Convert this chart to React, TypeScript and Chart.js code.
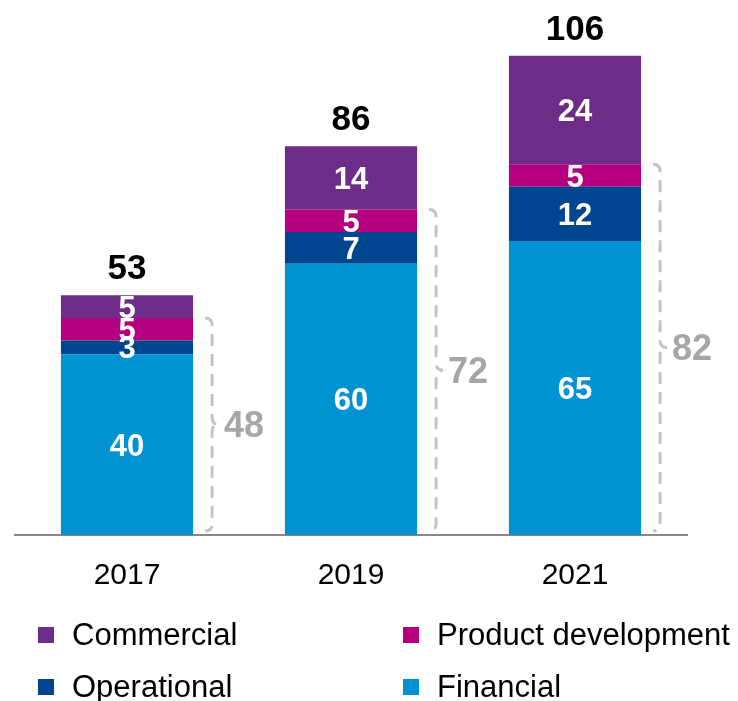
import React, { useEffect, useRef } from "react";
import { Chart, registerables } from "chart.js";

Chart.register(...registerables);

const categories = ["2017", "2019", "2021"];
const financial = [40, 60, 65];
const operational = [3, 7, 12];
const productDevelopment = [5, 5, 5];
const commercial = [5, 14, 24];

const seriesNames = ["Financial", "Operational", "Product development", "Commercial"];
const seriesColors = ["#0092D2", "#00458F", "#B4007E", "#6C2C87"];
const legendOrder = [3, 2, 1, 0]; // Commercial, Product development, Operational, Financial

const FONT = "'Liberation Sans', Arial, Helvetica, sans-serif";

const overlayPlugin = {
  id: "overlay",
  afterDatasetsDraw(chart: any) {
    const ctx = chart.ctx as CanvasRenderingContext2D;
    const yScale = chart.scales.y;
    const ds = chart.data.datasets;
    ctx.save();
    // segment labels
    ctx.textAlign = "center";
    ctx.textBaseline = "alphabetic";
    ctx.fillStyle = "#FFFFFF";
    ctx.font = `bold 31px ${FONT}`;
    ds.forEach((d: any, di: number) => {
      const meta = chart.getDatasetMeta(di);
      meta.data.forEach((bar: any, i: number) => {
        const p = bar.getProps(["x", "y", "base"], true);
        const cy = (p.y + p.base) / 2;
        ctx.fillText(String(d.data[i]), p.x, cy + 31 * 0.716 / 2);
      });
    });
    // totals and brackets
    const lastMeta = chart.getDatasetMeta(ds.length - 1);
    categories.forEach((_, i) => {
      const total = ds.reduce((s: number, d: any) => s + d.data[i], 0);
      const lower = ds.slice(0, 3).reduce((s: number, d: any) => s + d.data[i], 0);
      const bar = lastMeta.data[i].getProps(["x", "y", "width"], true);
      // total label
      ctx.fillStyle = "#000000";
      ctx.font = `bold 35px ${FONT}`;
      ctx.textAlign = "center";
      ctx.fillText(String(total), bar.x, bar.y - 16);
      // bracket
      const bx = bar.x + bar.width / 2 + 19;
      const top = yScale.getPixelForValue(lower);
      const bottom = yScale.getPixelForValue(0) - 4;
      const mid = (top + bottom) / 2;
      const r = 7;
      ctx.strokeStyle = "#C4C4C4";
      ctx.lineWidth = 3;
      ctx.setLineDash([12, 8]);
      ctx.beginPath();
      ctx.moveTo(bx - r, top);
      ctx.quadraticCurveTo(bx, top, bx, top + r);
      ctx.lineTo(bx, mid - r);
      ctx.quadraticCurveTo(bx, mid, bx + r, mid);
      ctx.quadraticCurveTo(bx, mid, bx, mid + r);
      ctx.lineTo(bx, bottom - r);
      ctx.quadraticCurveTo(bx, bottom, bx - r, bottom);
      ctx.stroke();
      ctx.setLineDash([]);
      ctx.fillStyle = "#A6A6A6";
      ctx.font = `bold 36px ${FONT}`;
      ctx.textAlign = "left";
      ctx.fillText(String(lower), bx + 12, mid + 36 * 0.716 / 2);
    });
    ctx.restore();
  },
  afterDraw(chart: any) {
    const ctx = chart.ctx as CanvasRenderingContext2D;
    ctx.save();
    ctx.font = `31px ${FONT}`;
    ctx.textAlign = "left";
    ctx.textBaseline = "alphabetic";
    const colX = [38, 403];
    const rowY = [634, 686];
    legendOrder.forEach((si, k) => {
      const col = k % 2;
      const row = Math.floor(k / 2);
      const x = colX[col];
      const y = rowY[row];
      ctx.fillStyle = seriesColors[si];
      ctx.fillRect(x, y - 7, 16, 16);
      ctx.fillStyle = "#000000";
      ctx.fillText(seriesNames[si], x + 34, y + 31 * 0.716 / 2);
    });
    ctx.restore();
  },
};

export default function App() {
  const ref = useRef<HTMLCanvasElement | null>(null);
  useEffect(() => {
    if (!ref.current) return;
    const seriesData = [financial, operational, productDevelopment, commercial];
    const chart = new Chart(ref.current, {
      type: "bar",
      data: {
        labels: categories,
        datasets: seriesData.map((d, i) => ({
          label: seriesNames[i],
          data: d,
          backgroundColor: seriesColors[i],
          borderWidth: 0,
          barPercentage: 0.59,
          categoryPercentage: 1,
        })),
      },
      options: {
        responsive: false,
        animation: false,
        layout: { padding: { top: 15, left: 15, right: 51, bottom: 0 } },
        plugins: { legend: { display: false }, tooltip: { enabled: false } },
        scales: {
          x: {
            stacked: true,
            grid: { display: false, drawTicks: false },
            border: { display: true, color: "#888888", width: 2 },
            ticks: { color: "#000000", font: { family: FONT, size: 30 }, padding: 23 },
            afterFit: (scale: any) => {
              scale.height = 166;
            },
          },
          y: {
            stacked: true,
            display: false,
            min: 0,
            max: 115,
          },
        },
      },
      plugins: [overlayPlugin],
    });
    return () => chart.destroy();
  }, []);
  return (
    <div style={{ position: "absolute", left: 0, top: 0, width: 738, height: 701, background: "#fff" }}>
      <canvas ref={ref} width={738} height={701} />
    </div>
  );
}
